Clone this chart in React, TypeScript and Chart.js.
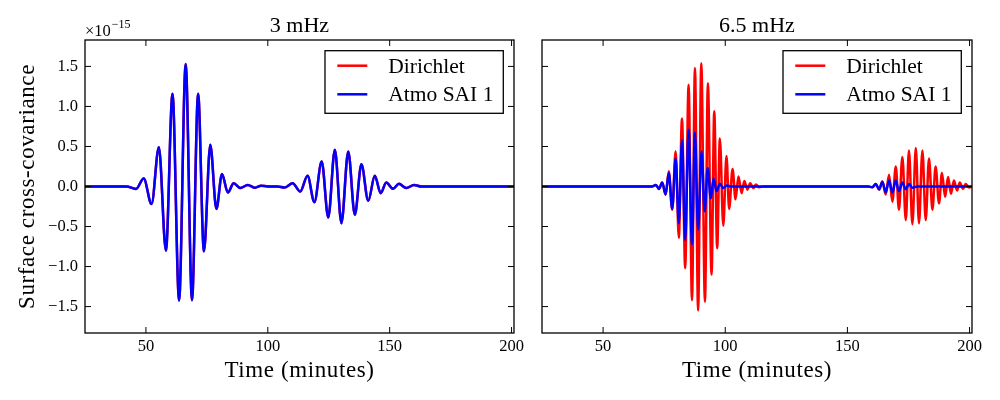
import { useEffect, useRef } from "react";
import { Chart, registerables } from "chart.js";

Chart.register(...registerables);

const xTicks = [50, 100, 150, 200];
const yTicks = [-1.5, -1.0, -0.5, 0.0, 0.5, 1.0, 1.5];
const seriesNames = ["Dirichlet", "Atmo SAI 1"];
const seriesColors = ["#ff0000", "#0000ff"];
const panelTitles = ["3 mHz", "6.5 mHz"];

// 3 mHz: both series almost on top of each other
const leftTimes = [
  25, 42, 45.9, 49.1, 52.3, 55.3, 58.2, 60.9, 63.6, 66.3, 68.9, 71.4, 73.8, 76.4, 78.9, 81.2, 83.6,
  86.0, 88.7, 91.8, 94.8, 97.2, 100, 104, 106.8, 110.2, 113.3, 116.3, 119.1, 122.1, 124.8, 127.5,
  130.2, 133.0, 135.7, 138.4, 141.2, 143.9, 146.3, 148.6, 151.4, 153.8, 156.8, 160.0, 163, 201,
];
const leftDirichlet = [
  0, 0, -0.03, 0.1, -0.22, 0.49, -0.8, 1.16, -1.425, 1.53, -1.42, 1.16, -0.81, 0.52, -0.28, 0.155,
  -0.075, 0.04, -0.02, 0.02, -0.015, 0.01, 0, 0, -0.0125, 0.04, -0.0625, 0.133, -0.196, 0.3125,
  -0.3875, 0.458, -0.458, 0.4375, -0.354, 0.279, -0.179, 0.133, -0.083, 0.05, -0.029, 0.033, -0.02,
  0.02, 0, 0,
];
const leftAtmo = [
  0, 0, -0.03, 0.1, -0.22, 0.49, -0.8, 1.16, -1.425, 1.53, -1.42, 1.16, -0.81, 0.52, -0.28, 0.155,
  -0.075, 0.04, -0.02, 0.02, -0.015, 0.01, 0, 0, -0.0125, 0.04, -0.0625, 0.133, -0.196, 0.3125,
  -0.3875, 0.458, -0.458, 0.4375, -0.354, 0.279, -0.179, 0.133, -0.083, 0.05, -0.029, 0.033, -0.02,
  0.02, 0, 0,
];

// 6.5 mHz
const rightDirichletTimes = [
  25, 70, 71.6, 72.9, 74.2, 75.6, 76.9, 78.3, 79.7, 81.0, 82.3, 83.6, 85.0, 86.4, 87.6, 88.9, 90.2,
  91.7, 92.9, 94.4, 95.5, 96.7, 97.8, 99.2, 100.5, 101.6, 103.0, 104.2, 105.4, 106.7, 107.8, 109.1,
  110.2, 111.6, 112.5, 113.9, 115.5, 158.5, 160.2, 161.6, 163.0, 164.3, 165.7, 167.05, 168.4, 169.8,
  171.1, 172.5, 173.9, 175.2, 176.6, 178.0, 179.3, 180.7, 182.05, 183.4, 184.8, 186.1, 187.5, 188.7,
  190.0, 191.2, 192.4, 193.6, 194.9, 196.0, 197.3, 198.4, 199.8, 201,
];
const rightDirichlet = [
  0, 0, 0.02, -0.03, 0.05, -0.1, 0.19, -0.29, 0.44, -0.64, 0.85, -1.02, 1.27, -1.42, 1.48, -1.55,
  1.54, -1.44, 1.29, -1.1, 0.94, -0.77, 0.6, -0.49, 0.38, -0.28, 0.22, -0.16, 0.125, -0.083, 0.07,
  -0.04, 0.04, -0.02, 0.025, -0.01, 0, 0, -0.01, 0.03, -0.04, 0.0625, -0.1, 0.146, -0.19, 0.25,
  -0.29, 0.37, -0.42, 0.45, -0.47, 0.48, -0.46, 0.45, -0.42, 0.35, -0.29, 0.25, -0.21, 0.17, -0.13,
  0.12, -0.09, 0.075, -0.05, 0.05, -0.03, 0.03, -0.0125, 0,
];
const rightAtmoTimes = [
  25, 70, 71.6, 72.9, 74.2, 75.6, 76.9, 78.3, 79.7, 81.0, 82.3, 83.6, 85.0, 86.4, 87.6, 88.9, 90.3,
  91.6, 92.8, 94.1, 95.2, 96.4, 97.8, 99.2, 100.5, 102.5, 158.5, 160.2, 161.6, 163.0, 164.3, 165.7,
  167.05, 168.4, 169.8, 171.1, 172.5, 173.9, 175.2, 176.6, 178.5, 201,
];
const rightAtmo = [
  0, 0, 0.02, -0.03, 0.05, -0.1, 0.17, -0.28, 0.35, -0.46, 0.58, -0.67, 0.71, -0.72, 0.67, -0.54,
  0.44, -0.31, 0.23, -0.15, 0.1, -0.06, 0.033, -0.02, 0.012, 0, 0, -0.01, 0.03, -0.035, 0.06, -0.07,
  0.075, -0.075, 0.075, -0.06, 0.05, -0.035, 0.03, -0.015, 0, 0,
];

const SERIF = "'Liberation Serif', 'Times New Roman', serif";
const TICK = 6;

const toPoints = (xs: number[], ys: number[]) => xs.map((x, i) => ({ x, y: ys[i] }));

// frame, inward ticks, legend box and all the labels, matplotlib-style
const framePlugin = {
  id: "frame",
  afterDraw(chart: any, _args: any, opts: any) {
    const { ctx, chartArea: a } = chart;
    const xs = chart.scales.x;
    const ys = chart.scales.y;
    ctx.save();

    ctx.strokeStyle = "#000";
    ctx.lineWidth = 1;
    ctx.beginPath();
    xs.ticks.forEach((t: any) => {
      const px = xs.getPixelForValue(t.value);
      ctx.moveTo(px, a.bottom);
      ctx.lineTo(px, a.bottom - TICK);
      ctx.moveTo(px, a.top);
      ctx.lineTo(px, a.top + TICK);
    });
    ys.ticks.forEach((t: any) => {
      const py = ys.getPixelForValue(t.value);
      ctx.moveTo(a.left, py);
      ctx.lineTo(a.left + TICK, py);
      ctx.moveTo(a.right, py);
      ctx.lineTo(a.right - TICK, py);
    });
    ctx.stroke();
    ctx.lineWidth = 1.3;
    ctx.strokeRect(a.left, a.top, a.right - a.left, a.bottom - a.top);

    // legend
    const bw = 178.3;
    const bh = 62.6;
    const bx = a.right - 10.7 - bw;
    const by = a.top + 10.7;
    ctx.fillStyle = "#fff";
    ctx.fillRect(bx, by, bw, bh);
    ctx.strokeRect(bx, by, bw, bh);
    ctx.font = `21.5px ${SERIF}`;
    ctx.textAlign = "left";
    ctx.textBaseline = "alphabetic";
    const rows = [...chart.data.datasets].sort((p: any, q: any) => q.order - p.order);
    rows.forEach((ds: any, i: number) => {
      const ly = by + 15 + i * 28.6;
      ctx.strokeStyle = ds.borderColor;
      ctx.lineWidth = 2.5;
      ctx.beginPath();
      ctx.moveTo(bx + 12.3, ly);
      ctx.lineTo(bx + 42.3, ly);
      ctx.stroke();
      ctx.fillStyle = "#000";
      ctx.fillText(ds.label, bx + 63.3, ly + 7);
    });

    const cx = (a.left + a.right) / 2;
    ctx.fillStyle = "#000";
    ctx.textAlign = "center";
    ctx.font = `22px ${SERIF}`;
    ctx.fillText(opts.title, cx, 32);

    ctx.font = `23px ${SERIF}`;
    ctx.letterSpacing = "0.6px";
    ctx.fillText("Time (minutes)", cx, 377);

    if (opts.yLabel) {
      ctx.save();
      ctx.translate(33.5, (a.top + a.bottom) / 2);
      ctx.rotate(-Math.PI / 2);
      ctx.fillText(opts.yLabel, 0, 0);
      ctx.restore();
    }
    ctx.letterSpacing = "0px";

    if (opts.exponent) {
      ctx.textAlign = "left";
      ctx.font = `16.5px ${SERIF}`;
      const base = "\u00d710";
      ctx.fillText(base, a.left, 35.5);
      const w = ctx.measureText(base).width;
      ctx.font = `12px ${SERIF}`;
      ctx.fillText("\u221215", a.left + w + 1, 28);
    }
    ctx.restore();
  },
};

function makeConfig(
  series: { x: number; y: number }[][],
  title: string,
  padRight: number,
  yWidth: number,
  showY: boolean,
): any {
  return {
    type: "line",
    data: {
      datasets: series.map((pts, i) => ({
        label: seriesNames[i],
        data: pts,
        borderColor: seriesColors[i],
        borderWidth: 2.5,
        pointRadius: 0,
        fill: false,
        cubicInterpolationMode: "monotone",
        order: series.length - i,
      })),
    },
    options: {
      responsive: true,
      maintainAspectRatio: false,
      animation: false,
      layout: { padding: { top: 40, right: padRight, bottom: 0, left: 0 } },
      scales: {
        x: {
          type: "linear",
          min: 25,
          max: 201,
          grid: { display: false, drawTicks: false },
          border: { display: false },
          afterBuildTicks: (s: any) => {
            s.ticks = xTicks.map((v) => ({ value: v }));
          },
          afterFit: (s: any) => {
            s.height = 67;
          },
          ticks: {
            color: "#000",
            padding: 4,
            maxRotation: 0,
            font: { family: SERIF, size: 16.5 },
            callback: (v: number) => String(v),
          },
        },
        y: {
          type: "linear",
          min: -1.83,
          max: 1.83,
          grid: { display: false, drawTicks: false },
          border: { display: false },
          afterBuildTicks: (s: any) => {
            s.ticks = yTicks.map((v) => ({ value: v }));
          },
          afterFit: (s: any) => {
            s.width = yWidth;
          },
          ticks: {
            display: showY,
            color: "#000",
            padding: 7,
            font: { family: SERIF, size: 16.5 },
            callback: (v: number) => v.toFixed(1).replace("-", "\u2212"),
          },
        },
      },
      plugins: {
        legend: { display: false },
        tooltip: { enabled: false },
        frame: {
          title,
          yLabel: showY ? "Surface cross-covariance" : "",
          exponent: showY,
        },
      },
    },
    plugins: [framePlugin],
  };
}

const App = () => {
  const leftRef = useRef<HTMLCanvasElement>(null);
  const rightRef = useRef<HTMLCanvasElement>(null);

  useEffect(() => {
    const charts: Chart[] = [];
    if (leftRef.current) {
      charts.push(
        new Chart(
          leftRef.current,
          makeConfig(
            [toPoints(leftTimes, leftDirichlet), toPoints(leftTimes, leftAtmo)],
            panelTitles[0],
            12.3,
            85,
            true,
          ),
        ),
      );
    }
    if (rightRef.current) {
      charts.push(
        new Chart(
          rightRef.current,
          makeConfig(
            [toPoints(rightDirichletTimes, rightDirichlet), toPoints(rightAtmoTimes, rightAtmo)],
            panelTitles[1],
            28,
            14,
            false,
          ),
        ),
      );
    }
    return () => charts.forEach((c) => c.destroy());
  }, []);

  return (
    <div style={{ position: "absolute", left: 0, top: 0, width: 1000, height: 400, background: "#fff" }}>
      <div style={{ position: "absolute", left: 0, top: 0, width: 528, height: 400 }}>
        <canvas ref={leftRef}></canvas>
      </div>
      <div style={{ position: "absolute", left: 528, top: 0, width: 472, height: 400 }}>
        <canvas ref={rightRef}></canvas>
      </div>
    </div>
  );
};

export default App;
